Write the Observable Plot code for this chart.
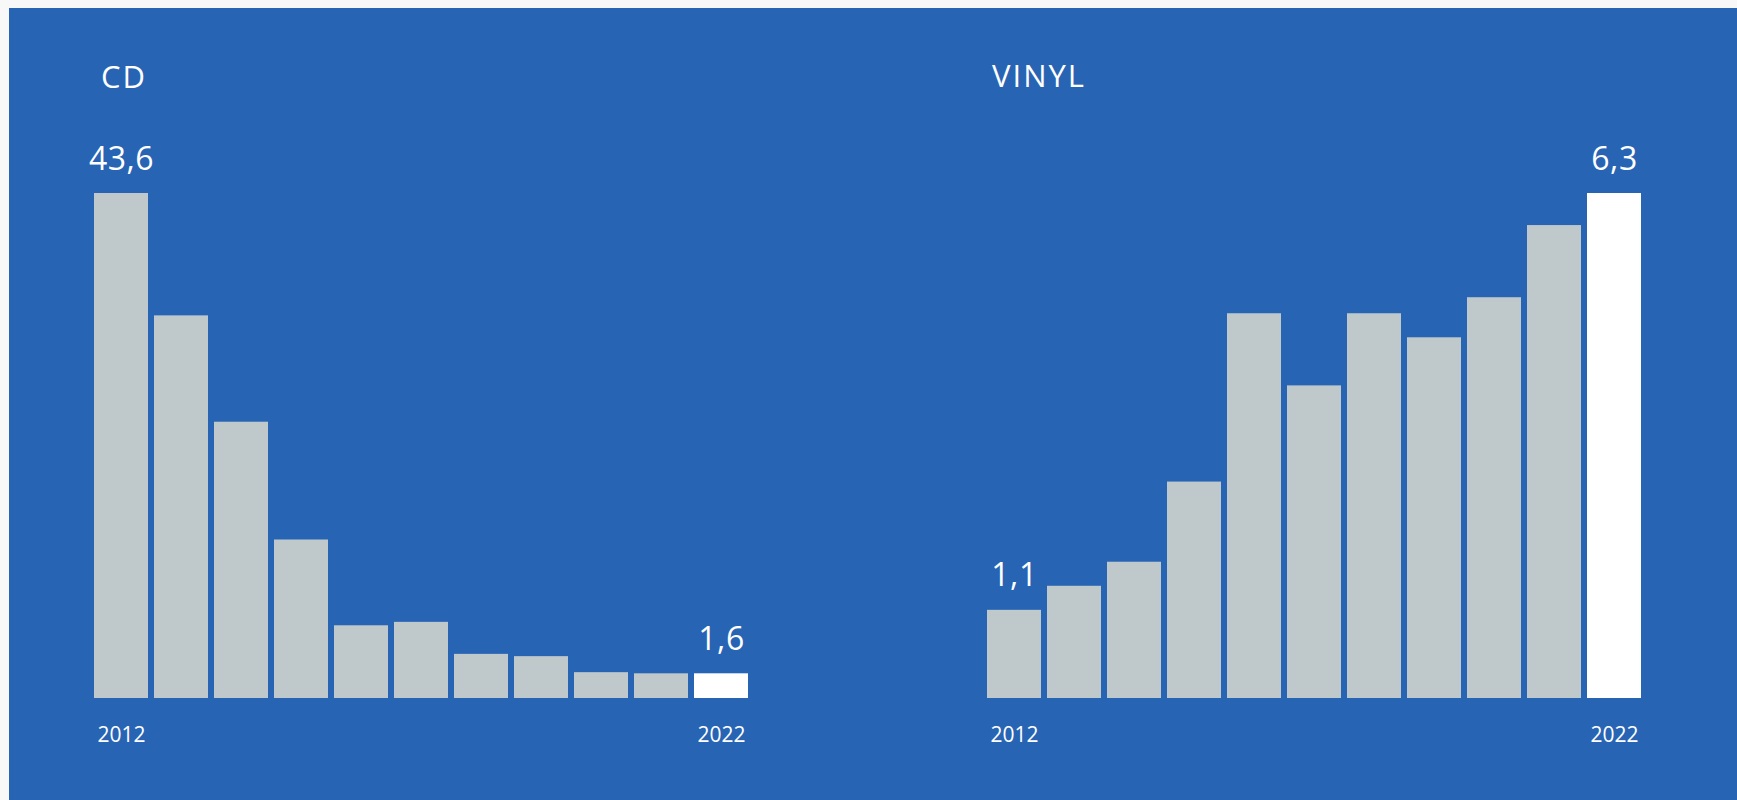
<!DOCTYPE html>
<html>
<head>
<meta charset="utf-8">
<script src="https://cdn.jsdelivr.net/npm/d3@7"></script>
<script src="https://cdn.jsdelivr.net/npm/@observablehq/plot@0.6"></script>
<style>
  html, body { margin: 0; padding: 0; background: #f8f8f8; overflow: hidden; }
  #panel { position: absolute; left: 9px; top: 8px; width: 1728px; height: 792px; background: #2764b4; }
  .chart { position: absolute; top: 0; }
  .title { position: absolute; color: #ffffff; font-family: "Open Sans", sans-serif; font-size: 31px; line-height: 31px; letter-spacing: 2px; }
  .chart g[aria-label="text"] text { letter-spacing: 0.5px; }
</style>
</head>
<body>
<div id="panel">
  <div class="title" id="t-cd" style="left:92px; top:53px;"></div>
  <div class="title" id="t-vinyl" style="left:983px; top:52px;"></div>
  <div class="chart" id="c-cd" style="left:0px;"></div>
  <div class="chart" id="c-vinyl" style="left:891px;"></div>
</div>
<script>
// ---- data ----
const years = ["2012", "2013", "2014", "2015", "2016", "2017", "2018", "2019", "2020", "2021", "2022"];
const titles = ["CD", "VINYL"];
const cdValues = [43.6, 32.9, 23.6, 13.3, 5.8, 6.1, 3.3, 3.1, 1.7, 1.6, 1.6];
const vinylValues = [1.1, 1.4, 1.7, 2.7, 4.8, 3.9, 4.8, 4.5, 5.0, 5.9, 6.3];
const baselines = [-0.56, 0];   // value axis start of each panel
const axisYears = ["2012", "2022"];
const highlightYear = "2022";

const fmt = v => v.toFixed(1).replace(".", ",");

function chart(values, baseline, marginLeft, marginRight) {
  const data = years.map((year, i) => ({year, value: values[i], base: baseline}));
  const labels = [data[0], data[data.length - 1]];
  return Plot.plot({
    width: 800,
    height: 792,
    marginLeft,
    marginRight,
    marginTop: 185,
    marginBottom: 102,
    style: {background: "transparent", color: "#ffffff", fontFamily: "'Open Sans', sans-serif"},
    x: {type: "band", domain: years, padding: 0.1, align: 0.5},
    y: {domain: [baseline, d3.max(values)], axis: null},
    marks: [
      Plot.barY(data, {
        x: "year",
        y1: "base",
        y2: "value",
        fill: d => d.year === highlightYear ? "#ffffff" : "#bfc8ca"
      }),
      Plot.text(labels, {
        x: "year",
        y: "value",
        text: d => fmt(d.value),
        lineAnchor: "bottom",
        dy: -24,
        fill: "#ffffff",
        fontSize: 32
      }),
      Plot.axisX({
        ticks: axisYears,
        tickSize: 0,
        tickPadding: 29,
        fontSize: 21,
        label: null,
        fill: "#ffffff"
      })
    ]
  });
}

document.getElementById("t-cd").textContent = titles[0];
document.getElementById("t-vinyl").textContent = titles[1];
document.getElementById("c-cd").appendChild(chart(cdValues, baselines[0], 79, 55));
document.getElementById("c-vinyl").appendChild(chart(vinylValues, baselines[1], 81, 53));
</script>
</body>
</html>
